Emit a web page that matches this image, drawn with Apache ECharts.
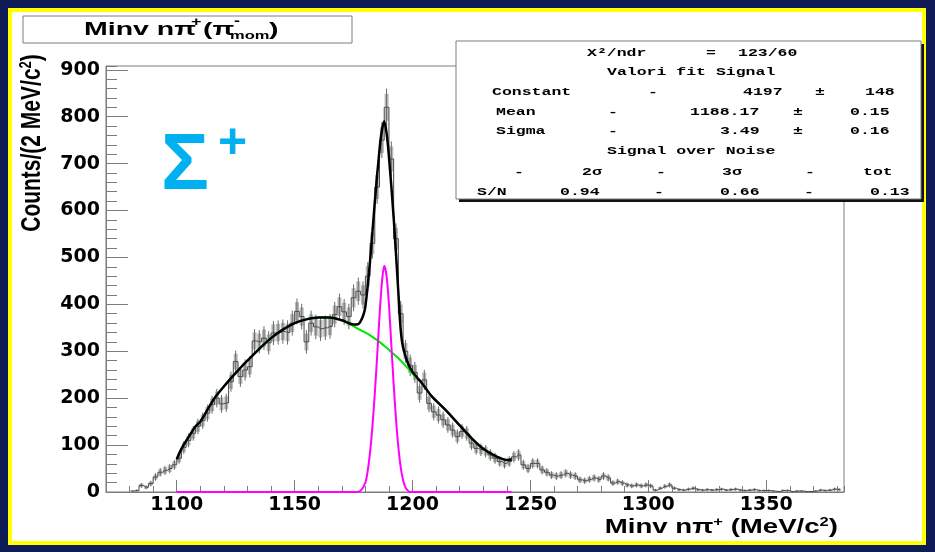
<!DOCTYPE html>
<html><head><meta charset="utf-8">
<script src="https://cdn.jsdelivr.net/npm/echarts@6/dist/echarts.min.js"></script>
<style>
html,body{margin:0;padding:0;width:935px;height:552px;overflow:hidden;background:#0f1b56;}
#bg{position:absolute;left:8px;top:8px;width:918px;height:537px;box-sizing:border-box;border:4px solid #ffff00;background:#fff;}
#chart{position:absolute;left:0;top:0;width:935px;height:552px;}
</style></head><body><div id="bg"></div><div id="chart"></div>
<script>
// ---- data ----
const binStart = 1080;   // MeV/c^2, left edge of first filled bin
const binWidth = 2;      // MeV/c^2
const counts = [
  2, 3, 14, 10, 18, 32, 42, 46, 50, 58,
  72, 95, 110, 125, 140, 152, 168, 186, 200, 188,
  190, 235, 278, 246, 260, 267, 322, 320, 328, 318,
  339, 340, 342, 340, 360, 385, 374, 320, 360, 352,
  348, 350, 353, 378, 395, 384, 374, 414, 428, 420,
  460, 530, 650, 750, 820, 710, 540, 380, 300, 270,
  255, 211, 239, 189, 171, 164, 154, 143, 132, 118,
  129, 125, 104, 93, 90, 87, 79, 72, 65, 61,
  65, 75, 79, 58, 50, 61, 61, 47, 42, 36,
  34, 36, 40, 36, 34, 26, 24, 27, 30, 27,
  34, 30, 19, 22, 19, 15, 13, 15, 13, 15,
  13, 4, 8, 12, 15, 8, 5, 4, 6, 8,
  5, 4, 5, 4, 5, 6, 4, 5, 6, 4,
  3, 4, 5, 3, 3, 3, 2, 1, 3, 3,
  1, 2, 2, 1, 1, 2, 4, 3, 4, 6, 5
];
const fitTotal = [
  [1100,70],[1102,92],[1105,117],[1108,140],[1110,150],[1113,175],[1116,200],[1120,225],
  [1124,248],[1128,270],[1132,290],[1136,310],[1140,328],[1145,346],[1150,360],[1155,368],
  [1160,372],[1165,372],[1170,366],[1173,360],[1175,357],[1177,358],[1179,375],[1180,395],
  [1182,492],[1184,618],[1186,730],[1187,770],[1188,790],[1189,765],[1190,715],[1192,585],
  [1194,425],[1195,345],[1196,308],[1198,275],[1200,256],[1204,232],[1208,205],[1214,175],
  [1220,142],[1225,115],[1230,92],[1235,77],[1239,69],[1241,68],[1242,70]
];
const fitBackground = [
  [1100,70],[1102,92],[1105,117],[1108,140],[1110,150],[1113,175],[1116,200],[1120,225],
  [1124,248],[1128,270],[1132,290],[1136,310],[1140,328],[1145,346],[1150,360],[1155,368],
  [1160,372],[1165,372],[1170,366],[1174,356],[1178,345],[1182,334],[1186,320],[1190,303],
  [1194,285],[1198,264],[1200,252],[1204,232],[1208,205],[1214,175],
  [1220,142],[1225,115],[1230,92],[1235,77],[1239,69],[1241,68],[1242,70]
];
const fitSignal = [
  [1100,0],[1176,0],[1178,3],[1180,20],[1181,45],[1182,85],[1183,140],[1184,210],[1185,290],
  [1186,375],[1187,445],[1188,482],[1189,460],[1190,400],[1191,315],[1192,230],[1193,155],
  [1194,95],[1195,52],[1196,25],[1197,10],[1198,3],[1199,0],[1242,0]
];
const xRange = [1070, 1383];
const yRange = [0, 908];

// ---- build ----
const histData = counts.map((v, i) => [binStart + binWidth * (i + 0.5), v]);
const grey = '#7c7c7c';
const labelFont = {fontFamily: 'DejaVu Sans', fontWeight: 'bold', fontSize: 19, color: '#000'};
const hide = {show: false};

function txt(text, x, y, o) {
  o = o || {};
  return {
    type: 'text', x: x, y: y, z: 100,
    scaleX: o.sx || 1, scaleY: o.sy || 1, rotation: o.rot || 0,
    style: {
      text: text,
      font: o.font || 'bold 11px "Liberation Mono"',
      fill: o.color || '#000',
      align: o.align || 'left', textAlign: o.align || 'left',
      verticalAlign: o.va || 'middle', textVerticalAlign: o.va || 'middle',
      rich: o.rich
    }
  };
}
const mono = {sx: 1.5};
const statsItems = [
  ['X²/ndr', 587, 53], ['=', 706, 53], ['123/60', 738, 53],
  ['Valori fit Signal', 607, 72],
  ['Constant', 492, 92], ['-', 648, 92], ['4197', 743, 92], ['±', 815, 92], ['148', 865, 92],
  ['Mean', 496, 112], ['-', 608, 112], ['1188.17', 690, 112], ['±', 793, 112], ['0.15', 850, 112],
  ['Sigma', 496, 131], ['-', 608, 131], ['3.49', 720, 131], ['±', 793, 131], ['0.16', 850, 131],
  ['Signal over Noise', 607, 151],
  ['-', 514, 172], ['2σ', 582, 172], ['-', 656, 172], ['3σ', 722, 172], ['-', 805, 172], ['tot', 863, 172],
  ['S/N', 477, 192], ['0.94', 560, 192], ['-', 654, 192], ['0.66', 720, 192], ['-', 804, 192], ['0.13', 870, 192]
];

const titleFont = 'bold 19px "Liberation Sans"';
const graphics = [
  // title box
  {type: 'rect', z: 90, shape: {x: 23, y: 16, width: 329, height: 27}, style: {fill: '#fff', stroke: grey, lineWidth: 1}},
  txt('Minv nπ', 84, 30, {font: titleFont, sx: 1.5}),
  txt('+', 191, 23, {font: 'bold 12px "Liberation Sans"', sx: 1.5}),
  txt('(π', 203, 30, {font: titleFont, sx: 1.5}),
  txt('-', 234, 22, {font: 'bold 12px "Liberation Sans"', sx: 1.5}),
  txt('mom', 230, 36, {font: 'bold 11px "Liberation Sans"', sx: 1.5}),
  txt(')', 269, 30, {font: titleFont, sx: 1.5}),
  // stats box
  {type: 'rect', z: 90, shape: {x: 459, y: 44, width: 465, height: 158}, style: {fill: '#111'}},
  {type: 'rect', z: 91, shape: {x: 456, y: 41, width: 465, height: 158}, style: {fill: '#fff', stroke: grey, lineWidth: 1}},
  // Sigma+
  txt('Σ', 161, 167, {font: 'bold 80px "Liberation Sans"', color: '#00b0f0'}),
  txt('+', 218, 144, {font: 'bold 50px "Liberation Sans"', color: '#00b0f0'}),
  // axis titles
  txt('{a|Counts/(2 MeV/c}{s|2}{a|)}', 32, 143, {
    rot: Math.PI / 2, align: 'center', sy: 1.3,
    rich: {a: {font: 'bold 21px "Liberation Sans"', fill: '#000', verticalAlign: 'bottom'},
           s: {font: 'bold 13px "Liberation Sans"', fill: '#000', verticalAlign: 'top'}}
  }),
  txt('{a|Minv nπ}{s|+}{a| (MeV/c}{s|2}{a|)}', 838, 527, {
    align: 'right', sx: 1.38,
    rich: {a: {font: 'bold 20px "Liberation Sans"', fill: '#000', verticalAlign: 'bottom'},
           s: {font: 'bold 12px "Liberation Sans"', fill: '#000', verticalAlign: 'top'}}
  })
];
statsItems.forEach(s => graphics.push(Object.assign(txt(s[0], s[1], s[2], mono), {z: 95})));

const plain = v => String(v);
const axisLineStyle = {show: true, onZero: false, lineStyle: {color: grey, width: 1}};
const option = {
  animation: false,
  backgroundColor: 'transparent',
  grid: {left: 106, right: 91, top: 66, bottom: 60, show: true, borderColor: grey, borderWidth: 1, backgroundColor: 'transparent'},
  xAxis: [
    {type: 'value', min: xRange[0], max: xRange[1], interval: 10, position: 'bottom',
     axisLine: axisLineStyle, axisTick: {show: true, inside: true, length: 6, lineStyle: {color: grey}},
     axisLabel: hide, splitLine: hide},
    {type: 'value', min: xRange[0], max: xRange[1], splitNumber: 5, position: 'bottom',
     axisLine: {show: false, onZero: false}, axisTick: {show: true, inside: true, length: 12, lineStyle: {color: grey}},
     axisLabel: Object.assign({margin: 4, showMinLabel: false, showMaxLabel: false, formatter: plain}, labelFont), splitLine: hide}
  ],
  yAxis: [
    {type: 'value', min: yRange[0], max: yRange[1], interval: 20, position: 'left',
     axisLine: axisLineStyle, axisTick: {show: true, inside: true, length: 11, lineStyle: {color: grey}},
     axisLabel: hide, splitLine: hide},
    {type: 'value', min: yRange[0], max: yRange[1], interval: 100, position: 'left',
     axisLine: {show: false, onZero: false}, axisTick: {show: true, inside: true, length: 22, lineStyle: {color: grey}},
     axisLabel: Object.assign({margin: 6, showMaxLabel: false, formatter: plain}, labelFont), splitLine: hide}
  ],
  series: [
    {type: 'custom', xAxisIndex: 0, yAxisIndex: 0, data: histData, z: 2, clip: true,
     renderItem: function (params, api) {
       const x = api.value(0), v = api.value(1), e = Math.sqrt(v);
       const bt = api.coord([x, v + e]), bb = api.coord([x, v - e]);
       const wt = api.coord([x, v + 1.4 * e]), wb = api.coord([x, Math.max(0, v - 1.4 * e)]);
       return {type: 'group', children: [
         {type: 'rect', shape: {x: bt[0] - 2, y: bt[1], width: 4, height: bb[1] - bt[1]}, style: {fill: '#b9b9b9'}},
         {type: 'line', shape: {x1: wt[0], y1: wt[1], x2: wb[0], y2: wb[1]}, style: {stroke: '#6a6a6a', lineWidth: 1}}
       ]};
     }},
    {type: 'line', xAxisIndex: 0, yAxisIndex: 0, data: histData, step: 'middle', showSymbol: false, z: 3,
     lineStyle: {color: '#4a4a4a', width: 1}},
    {type: 'line', xAxisIndex: 0, yAxisIndex: 0, data: fitBackground, smooth: 0.3, showSymbol: false, z: 4,
     lineStyle: {color: '#00e600', width: 2}},
    {type: 'line', xAxisIndex: 0, yAxisIndex: 0, data: fitSignal, smooth: 0.3, showSymbol: false, z: 5,
     lineStyle: {color: '#ff00ff', width: 2}},
    {type: 'line', xAxisIndex: 0, yAxisIndex: 0, data: fitTotal, smooth: 0.3, showSymbol: false, z: 6,
     lineStyle: {color: '#000', width: 2.5}}
  ],
  graphic: graphics
};
const chart = echarts.init(document.getElementById('chart'), null, {renderer: 'canvas'});
chart.setOption(option);
</script></body></html>
